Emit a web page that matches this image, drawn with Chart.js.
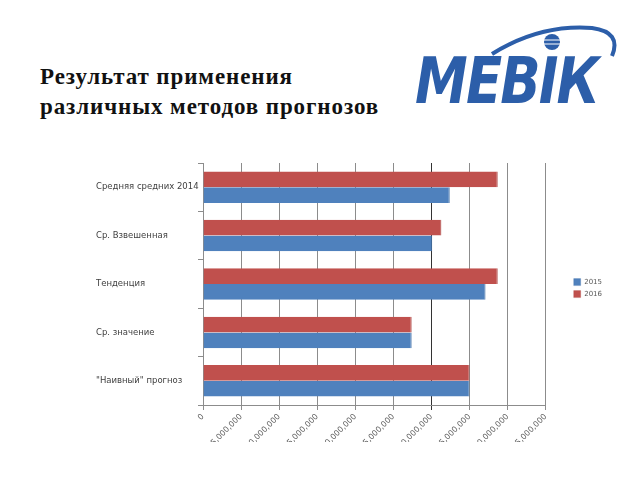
<!DOCTYPE html>
<html>
<head>
<meta charset="utf-8">
<script src="https://cdn.jsdelivr.net/npm/chart.js@4"></script>
<style>
  html, body { margin:0; padding:0; background:#fff; width:640px; height:480px; overflow:hidden; }
  #title { position:absolute; left:40px; top:62px; font-family:"Liberation Serif","Times New Roman",serif; font-weight:bold; font-size:23px; letter-spacing:0.9px; line-height:30px; color:#111; white-space:nowrap; }
  #logoArc { position:absolute; left:0; top:0; }
  #logoText { position:absolute; left:415px; top:46px; font-family:"DejaVu Sans Condensed","DejaVu Sans",sans-serif; font-weight:bold; font-style:italic; font-size:64px; color:#2c5ea9; transform-origin:0 0; transform:scaleX(0.92); letter-spacing:-2px; line-height:70px; }
  #wrap { position:absolute; left:60px; top:150px; width:580px; height:292px; overflow:hidden; }
</style>
</head>
<body>
<div id="title">Результат применения<br>различных методов прогнозов</div>
<svg id="logoArc" width="640" height="130">
  <path d="M492 54 Q540 24 592 28 Q622 32 612 56" fill="none" stroke="#2c5ea9" stroke-width="4"/>
  <circle cx="552" cy="42" r="8" fill="#2c5ea9"/>
  <line x1="543" y1="40" x2="561" y2="40" stroke="#fff" stroke-width="1"/>
  <line x1="543" y1="44" x2="561" y2="44" stroke="#fff" stroke-width="1"/>
</svg>
<div id="logoText">МЕВІК</div>
<div id="wrap"><canvas id="c" width="580" height="292"></canvas></div>
<script>
const categories = ["Средняя средних 2014", "Ср. Взвешенная", "Тенденция", "Ср. значение", "\"Наивный\" прогноз"];
const series2015 = [32400000, 30100000, 37100000, 27400000, 35000000];
const series2016 = [38700000, 31300000, 38700000, 27400000, 35000000];
const xTicks = [0, 5000000, 10000000, 15000000, 20000000, 25000000, 30000000, 35000000, 40000000, 45000000];

new Chart(document.getElementById('c'), {
  type: 'bar',
  data: {
    labels: categories,
    datasets: [
      { label: '2016', data: series2016, backgroundColor: '#c0504d', borderColor: '#a9403d', borderWidth: {top:0,bottom:0,right:1,left:0}, categoryPercentage: 0.65, barPercentage: 1.0 },
      { label: '2015', data: series2015, backgroundColor: '#4f81bd', borderColor: '#3f6fa6', borderWidth: {top:0,bottom:0,right:1,left:0}, categoryPercentage: 0.65, barPercentage: 1.0 }
    ]
  },
  options: {
    indexAxis: 'y',
    responsive: false,
    animation: false,
    locale: 'en-US',
    layout: { padding: { left: 36, top: 13, right: 28, bottom: 0 } },
    plugins: {
      tooltip: { enabled: false },
      legend: {
        position: 'right',
        fullSize: false,
        reverse: true,
        title: { display: true, text: ' ', font: { size: 1 }, padding: { top: 0, bottom: 7 } },
        labels: { boxWidth: 7, boxHeight: 7, padding: 5, color: '#595959', font: { family: 'DejaVu Sans', size: 7 } }
      }
    },
    scales: {
      x: {
        min: xTicks[0], max: xTicks[xTicks.length - 1],
        afterBuildTicks: (s) => { s.ticks = xTicks.map(v => ({ value: v })); },
        afterFit: (s) => { s.height = 37; },
        ticks: {
          minRotation: 45, maxRotation: 45, autoSkip: false,
          color: '#595959', font: { family: 'DejaVu Sans', size: 8 },
          padding: 2,
          callback: (v) => Number(v).toLocaleString('en-US')
        },
        grid: {
          color: (ctx) => (ctx.tick && ctx.tick.value === 30000000) ? '#333' : '#8c8c8c',
          lineWidth: 1, tickLength: 5
        },
        border: { color: '#8c8c8c' }
      },
      y: {
        afterFit: (s) => { s.width = 107; },
        ticks: { crossAlign: 'far', color: '#404040', font: { family: 'DejaVu Sans', size: 8.5 } },
        grid: { drawOnChartArea: false, tickLength: 5, color: '#8c8c8c', offset: true },
        border: { color: '#8c8c8c' }
      },
      gap: {
        type: 'category', position: 'right', display: true,
        afterFit: (s) => { s.width = 23; },
        ticks: { display: false },
        grid: { display: false },
        border: { display: false }
      }
    }
  }
});
</script>
</body>
</html>
